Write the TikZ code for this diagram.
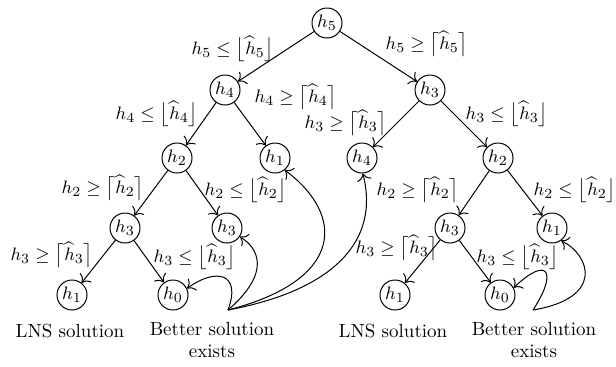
\documentclass[tikz,border=0pt]{standalone}
\usetikzlibrary{arrows.meta}
\begin{document}
\begin{tikzpicture}[x=0.5pt,y=-0.5pt,
  st/.style={circle,draw,line width=0.5pt,minimum size=15pt,inner sep=0pt,font=\fontsize{9.5}{11}\selectfont},
  lab/.style={inner sep=0pt,font=\fontsize{9.5}{11}\selectfont},
  txt/.style={inner sep=0pt,align=center,font=\fontsize{9.5}{11}\selectfont},
  arr/.style={-{To[scale=1.3]},line width=0.5pt}]
\useasboundingbox (0,0) rectangle (616,366);
% nodes
\node[st] (r)  at (327,23)  {$h_5$};
\node[st] (a)  at (225,90)  {$h_4$};
\node[st] (b)  at (430,90)  {$h_3$};
\node[st] (aa) at (177,158) {$h_2$};
\node[st] (ab) at (275,158) {$h_1$};
\node[st] (ba) at (362,158) {$h_4$};
\node[st] (bb) at (498,158) {$h_2$};
\node[st] (aaa) at (125,228) {$h_3$};
\node[st] (aab) at (227,228) {$h_3$};
\node[st] (bba) at (450,228) {$h_3$};
\node[st] (bbb) at (552,228) {$h_1$};
\node[st] (x1) at (72,295)  {$h_1$};
\node[st] (x2) at (173,295) {$h_0$};
\node[st] (y1) at (395,295) {$h_1$};
\node[st] (y2) at (500,295) {$h_0$};
% tree edges
\draw[arr] (r) -- (a);
\draw[arr] (r) -- (b);
\draw[arr] (a) -- (aa);
\draw[arr] (a) -- (ab);
\draw[arr] (b) -- (ba);
\draw[arr] (b) -- (bb);
\draw[arr] (aa) -- (aaa);
\draw[arr] (aa) -- (aab);
\draw[arr] (bb) -- (bba);
\draw[arr] (bb) -- (bbb);
\draw[arr] (aaa) -- (x1);
\draw[arr] (aaa) -- (x2);
\draw[arr] (bba) -- (y1);
\draw[arr] (bba) -- (y2);
% labels
\node[lab] (l1) at (233,49)  {$h_5 \le \bigl\lfloor \widehat{h}_5 \bigr\rfloor$};
\node[lab] (l2) at (427,44)  {$h_5 \ge \bigl\lceil \widehat{h}_5 \bigr\rceil$};
\node[lab] (l3) at (157,114) {$h_4 \le \bigl\lfloor \widehat{h}_4 \bigr\rfloor$};
\node[lab] (l4) at (296,97)  {$h_4 \ge \bigl\lceil \widehat{h}_4 \bigr\rceil$};
\node[lab] (l5) at (346,123) {$h_3 \ge \bigl\lceil \widehat{h}_3 \bigr\rceil$};
\node[lab] (l6) at (507,114) {$h_3 \le \bigl\lfloor \widehat{h}_3 \bigr\rfloor$};
\node[lab] (l7) at (103,188) {$h_2 \ge \bigl\lceil \widehat{h}_2 \bigr\rceil$};
\node[lab] (l8) at (246,190) {$h_2 \le \bigl\lfloor \widehat{h}_2 \bigr\rfloor$};
\node[lab] (l9) at (418,190) {$h_2 \ge \bigl\lceil \widehat{h}_2 \bigr\rceil$};
\node[lab] (l10) at (575,190) {$h_2 \le \bigl\lfloor \widehat{h}_2 \bigr\rfloor$};
\node[lab] (l11) at (52,255)  {$h_3 \ge \bigl\lceil \widehat{h}_3 \bigr\rceil$};
\node[lab] (l12) at (195,257) {$h_3 \le \bigl\lfloor \widehat{h}_3 \bigr\rfloor$};
\node[lab] (l13) at (397,248) {$h_3 \ge \bigl\lceil \widehat{h}_3 \bigr\rceil$};
\node[lab] (l14) at (518,257) {$h_3 \le \bigl\lfloor \widehat{h}_3 \bigr\rfloor$};
% bottom texts
\node[txt] (t1) at (70,331)  {LNS solution};
\node[txt,anchor=north] (t2) at (212,322) {Better solution\\exists};
\node[txt] (t3) at (393,331) {LNS solution};
\node[txt,anchor=north] (t4) at (534,322) {Better solution\\exists};
% curved connectors
\coordinate (cL) at (228,310);
\coordinate (cR) at (533,310);
\draw[arr] (cL) .. controls (242,272) and (215,268) .. (x2.25);
\draw[arr] (cL) .. controls (272,272) and (258,248) .. (aab.-34);
\draw[arr] (cL) .. controls (345,280) and (345,215) .. (ab.-51);
\draw[arr] (cL) .. controls (335,290) and (380,240) .. (ba.-87);
\draw[arr] (cR) .. controls (558,272) and (548,255) .. (y2.28);
\draw[arr] (cR) .. controls (605,298) and (590,255) .. (bbb.-54);
\end{tikzpicture}
\end{document}
